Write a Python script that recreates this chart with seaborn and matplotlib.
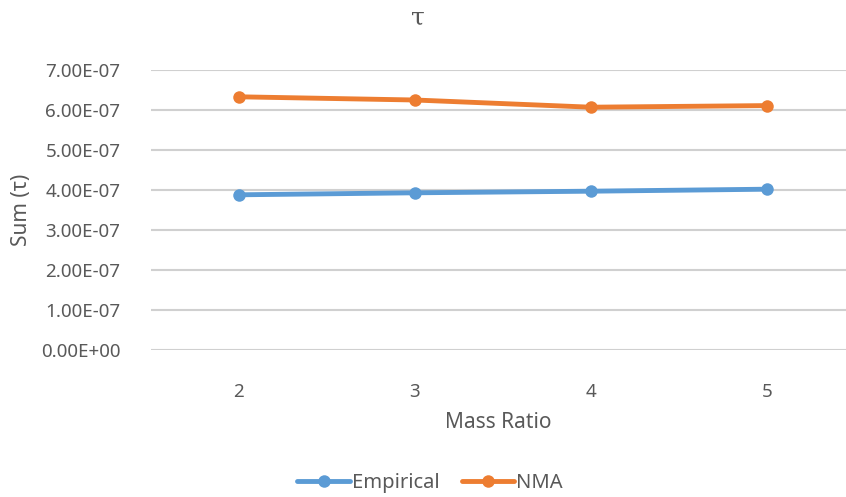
import matplotlib
matplotlib.use("Agg")
import matplotlib.pyplot as plt
from matplotlib.ticker import FuncFormatter, MultipleLocator
from matplotlib.lines import Line2D
import seaborn as sns
import pandas as pd

# Data
mass_ratio = [2, 3, 4, 5]
empirical = [3.88e-07, 3.93e-07, 3.97e-07, 4.02e-07]
nma = [6.33e-07, 6.25e-07, 6.07e-07, 6.11e-07]
series_names = ["Empirical", "NMA"]
colors = {"Empirical": "#5B9BD5", "NMA": "#ED7D31"}

df = pd.DataFrame({
    "Mass Ratio": mass_ratio * 2,
    "value": empirical + nma,
    "series": [series_names[0]] * 4 + [series_names[1]] * 4,
})

sns.set_theme(style="white")
plt.rcParams["font.family"] = ["Noto Sans", "DejaVu Sans"]

text_gray = "#595959"
fig = plt.figure(figsize=(8.46, 4.97), dpi=100)
ax = fig.add_axes([151 / 846, 1 - 350 / 497, 1 - 151 / 846, 280 / 497])

sns.lineplot(data=df, x="Mass Ratio", y="value", hue="series", palette=colors,
             marker="o", markersize=9, markeredgewidth=0, linewidth=3.5,
             ax=ax, legend=False, zorder=3)

ax.set_xlim(1.5, 5.45)
ax.set_ylim(0, 7e-07)
ax.yaxis.set_major_locator(MultipleLocator(1e-07))
ax.yaxis.set_major_formatter(FuncFormatter(lambda v, p: f"{v:.2E}"))
ax.set_xticks(mass_ratio)
ax.set_xticklabels([str(m) for m in mass_ratio])
ax.grid(axis="y", color="#D0D0D0", linewidth=1.5, zorder=0)
ax.grid(axis="x", visible=False)
for s in ax.spines.values():
    s.set_visible(False)
ax.tick_params(axis="both", length=0, colors=text_gray, labelsize=13.5)
ax.tick_params(axis="y", pad=22)
ax.tick_params(axis="x", pad=24)
ax.yaxis.get_offset_text().set_visible(False)

ax.set_xlabel("Mass Ratio", fontsize=15, color=text_gray, labelpad=8)
ax.set_ylabel("")
fig.text(22 / 846, 1 - 210 / 497, "Sum (τ)", rotation=90, ha="center", va="center",
         fontsize=15, color=text_gray)
fig.text(418 / 846, 1 - 18 / 497, "τ", ha="center", va="center",
         fontsize=18, color=text_gray, family=["DejaVu Serif"])

handles = [Line2D([], [], color=colors[n], marker="o", markersize=9,
                  markeredgewidth=0, linewidth=3.5) for n in series_names]
fig.legend(handles, series_names, loc="center", bbox_to_anchor=(430 / 846, 1 - 483 / 497),
           ncol=2, frameon=False, fontsize=14.5, labelcolor=text_gray,
           handlelength=2.6, handletextpad=0.1, columnspacing=1.1)

fig.savefig("out.png", dpi=100)
